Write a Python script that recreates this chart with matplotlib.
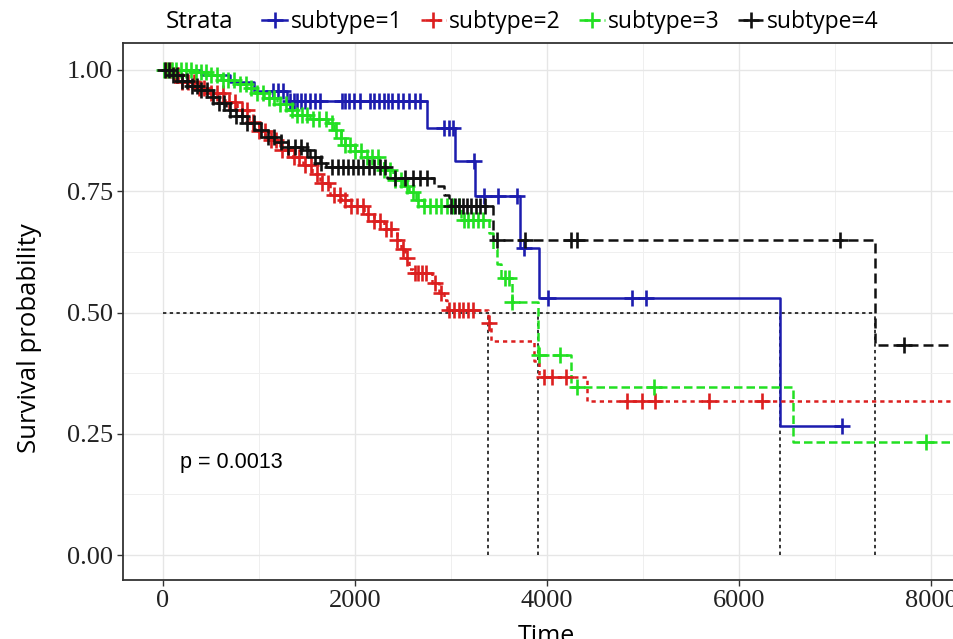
import numpy as np
import matplotlib
matplotlib.use("Agg")
import matplotlib.pyplot as plt
from matplotlib.lines import Line2D
from matplotlib.ticker import MultipleLocator

# Kaplan-Meier steps: event times and survival after each step
labels = ["subtype=1", "subtype=2", "subtype=3", "subtype=4"]

t1 = [0, 400, 700, 950, 1290, 2750, 3040, 3250, 3720, 3915, 6425]
s1 = [1.0, 0.99, 0.976, 0.957, 0.936, 0.88, 0.813, 0.74, 0.634, 0.53, 0.265]

t2 = [0, 100, 200, 350, 500, 650, 770, 900, 1000, 1100, 1220, 1350, 1460, 1550,
      1640, 1740, 1850, 1950, 2090, 2200, 2300, 2437, 2480, 2520, 2560, 2600,
      2800, 2880, 2930, 2960, 3390, 3420, 3860, 3920, 4420]
s2 = [1.0, 0.99, 0.975, 0.962, 0.952, 0.935, 0.918, 0.893, 0.875, 0.855, 0.835,
      0.82, 0.805, 0.785, 0.766, 0.742, 0.732, 0.72, 0.704, 0.688, 0.672, 0.649,
      0.63, 0.612, 0.59, 0.581, 0.56, 0.54, 0.525, 0.505, 0.478, 0.442, 0.40,
      0.368, 0.318]

t3 = [0, 300, 460, 600, 760, 880, 960, 1050, 1190, 1300, 1400, 1530, 1720, 1780,
      1850, 1900, 2000, 2100, 2250, 2300, 2400, 2500, 2560, 2640, 2720, 3100,
      3400, 3440, 3480, 3520, 3640, 3905, 4245, 6560]
s3 = [1.0, 0.995, 0.99, 0.98, 0.972, 0.962, 0.952, 0.942, 0.93, 0.918, 0.908,
      0.9, 0.89, 0.876, 0.86, 0.846, 0.832, 0.82, 0.808, 0.794, 0.774, 0.76,
      0.748, 0.732, 0.72, 0.69, 0.664, 0.63, 0.60, 0.571, 0.522, 0.412, 0.347,
      0.232]

t4 = [0, 100, 200, 300, 400, 500, 580, 660, 760, 860, 960, 1060, 1180, 1300,
      1450, 1530, 1640, 1700, 2335, 2820, 2925, 2975, 3440, 7420]
s4 = [1.0, 0.99, 0.978, 0.968, 0.958, 0.945, 0.932, 0.918, 0.905, 0.89, 0.876,
      0.862, 0.852, 0.842, 0.835, 0.821, 0.808, 0.80, 0.777, 0.76, 0.742, 0.72,
      0.649, 0.433]

last_follow = [7078, 9000, 9000, 9000]

# censoring times (+ marks)
c1 = [1150, 1200, 1250, 1320, 1360, 1400, 1440, 1480, 1530, 1580, 1640, 1860,
      1900, 1940, 1990, 2050, 2160, 2200, 2250, 2300, 2340, 2390, 2450, 2500,
      2560, 2620, 2680, 2930, 2980, 3020, 3235, 3340, 3490, 3690, 3760, 4010,
      4890, 5030, 7078]
c2 = [30, 80, 120, 160, 200, 260, 320, 380, 430, 500, 560, 620, 690, 750, 820,
      880, 940, 1000, 1060, 1120, 1180, 1240, 1300, 1360, 1420, 1480, 1540, 1600,
      1660, 1720, 1780, 1840, 1900, 1960, 2020, 2080, 2140, 2200, 2260, 2320,
      2380, 2440, 2500, 2540, 2620, 2660, 2700, 2740, 2830, 2900, 2980, 3030,
      3080, 3130, 3180, 3230, 3400, 3965, 4055, 4195, 4835, 4990, 5130, 5685, 6244]
c3 = [10, 50, 90, 140, 190, 240, 290, 340, 400, 450, 500, 560, 620, 680, 740,
      800, 860, 920, 980, 1040, 1100, 1160, 1220, 1280, 1340, 1400, 1450, 1500,
      1560, 1620, 1700, 1760, 1800, 1850, 1900, 1950, 2000, 2060, 2120, 2180,
      2240, 2300, 2360, 2420, 2480, 2540, 2600, 2660, 2720, 2780, 2840, 2900,
      2960, 3020, 3080, 3140, 3180, 3230, 3280, 3330, 3560, 3600, 3640, 3920,
      4140, 4315, 5110, 7948]
c4 = [20, 60, 100, 150, 200, 250, 300, 350, 400, 460, 520, 580, 640, 700, 760,
      820, 880, 950, 1020, 1090, 1160, 1230, 1300, 1370, 1440, 1500, 1580, 1650,
      1760, 1820, 1870, 1930, 1980, 2030, 2080, 2150, 2200, 2260, 2310, 2420,
      2520, 2600, 2680, 2750, 3000, 3040, 3080, 3120, 3170, 3210, 3260, 3300,
      3350, 3480, 3775, 4245, 4315, 7050, 7718]

p_text = "p = 0.0013"

colors = ["#1c1cae", "#dc1f1f", "#22e022", "#111111"]
styles = ["-", (0, (1.7, 1.6)), (0, (3.4, 1.6)), (0, (4.0, 2.0))]

leg_font = "Open Sans"

W, H = 954, 639
fig = plt.figure(figsize=(W / 100, H / 100), dpi=100)
fig.patch.set_facecolor("white")
# panel is wider than the picture (the original was cropped on the right)
x0, x1, ytop, ybot = 123, 1010, 43, 580
ax = fig.add_axes([x0 / W, 1 - ybot / H, (x1 - x0) / W, (ybot - ytop) / H])

px_per_unit = (355 - 163) / 2000.0
ax.set_xlim((x0 - 163) / px_per_unit, (x1 - 163) / px_per_unit)
ax.set_ylim((555 - ybot) / 485.0, (555 - ytop) / 485.0)

ax.xaxis.set_major_locator(MultipleLocator(2000))
ax.xaxis.set_minor_locator(MultipleLocator(1000))
ax.yaxis.set_major_locator(MultipleLocator(0.25))
ax.yaxis.set_minor_locator(MultipleLocator(0.125))
ax.grid(which="major", color="#e6e6e6", lw=1.0)
ax.grid(which="minor", color="#efefef", lw=0.7)
ax.set_axisbelow(True)
ax.set_xticks([0, 2000, 4000, 6000, 8000])
ax.set_yticks([0, 0.25, 0.5, 0.75, 1.0])
ax.set_yticklabels(["0.00", "0.25", "0.50", "0.75", "1.00"])
ax.tick_params(which="major", direction="out", length=4, width=1, color="#333333",
               labelsize=19, pad=3)
ax.tick_params(which="minor", length=0)
for lab in ax.get_xticklabels() + ax.get_yticklabels():
    lab.set_family("Liberation Serif")
    lab.set_color("#222222")
for sp in ax.spines.values():
    sp.set_color("#333333")
    sp.set_linewidth(1.3)

curves = [(t1, s1, c1), (t2, s2, c2), (t3, s3, c3), (t4, s4, c4)]

# median lines
medians = []
for t, s, c in curves:
    idx = np.where(np.array(s) <= 0.5)[0]
    medians.append(t[idx[0]] if len(idx) else np.nan)
med_style = dict(color="black", lw=1.1, linestyle=(0, (2.2, 2.2)), zorder=2)
ax.plot([0, np.nanmax(medians)], [0.5, 0.5], **med_style)
for m in medians:
    ax.plot([m, m], [0, 0.5], **med_style)

for i, (t, s, c) in enumerate(curves):
    tt = np.array(t + [last_follow[i]])
    ss = np.array(s + [s[-1]])
    ax.step(tt, ss, where="post", color=colors[i], lw=1.8, linestyle=styles[i],
            zorder=3)
    idx = np.searchsorted(np.array(t), np.array(c), side="right") - 1
    ax.plot(c, np.array(s)[idx], linestyle="none", marker="+", ms=11, mew=1.9,
            color=colors[i], zorder=4)

ax.text(180, 0.19, p_text, fontsize=15.5, family="Liberation Sans",
        va="center", ha="left")

fig.text(546 / W, 1 - 624 / H, "Time", fontsize=18, family="Open Sans",
         ha="center", va="top")
fig.text(30 / W, 1 - 338 / H, "Survival probability", fontsize=18.5,
         family="Open Sans", rotation=90, ha="center", va="center")

handles = [Line2D([], [], color=colors[i], lw=1.8, linestyle=styles[i], marker="+",
                  ms=11, mew=1.9) for i in range(4)]
fig.text(166 / W, 1 - 22 / H, "Strata", fontsize=17.5, family=leg_font,
         va="center", ha="left")
fig.legend(handles, labels, loc="center left", bbox_to_anchor=(262 / W, 1 - 22 / H),
           ncol=4, frameon=False, prop={"family": leg_font, "size": 16.5},
           handlelength=1.1, handletextpad=0.15, columnspacing=0.8, borderpad=0,
           borderaxespad=0)

fig.savefig("out.png", dpi=100, facecolor="white")
